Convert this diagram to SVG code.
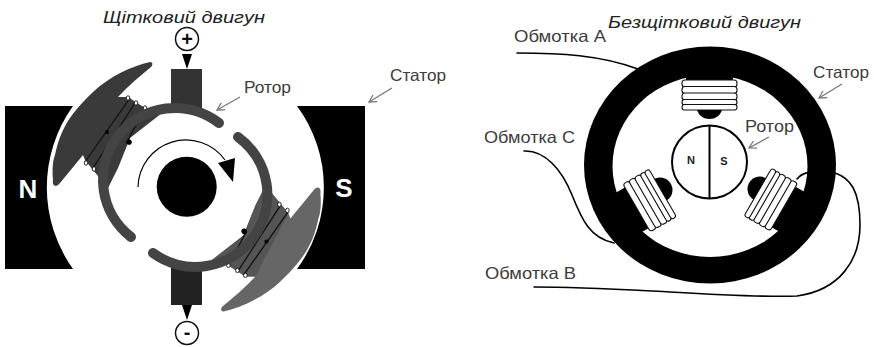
<svg xmlns="http://www.w3.org/2000/svg" width="874" height="347" viewBox="0 0 874 347">
<style>
text{font-family:"Liberation Sans",Arial,sans-serif;fill:#3c3c3c}
.lbl{font-size:16.500px}
.ttl{font-size:17px;font-style:italic;fill:#222}
.big{font-size:26px;font-weight:bold;fill:#fff;text-anchor:middle}
.sym{font-size:20px;font-weight:bold;fill:#111;text-anchor:middle}
.pn{font-size:11px;font-weight:bold;fill:#222;text-anchor:middle}
.wire{fill:none;stroke:#000;stroke-width:1.6;stroke-linecap:round}
.thin{fill:none;stroke:#000;stroke-width:1.2}
.ptr{fill:none;stroke:#777;stroke-width:1.3}
.loop{fill:#fff;stroke:#111;stroke-width:.9}
.bar{fill:#fff;stroke:#111;stroke-width:1.1}
.seg{fill:none;stroke:#444;stroke-width:10;stroke-linecap:round}
</style>
<defs>
<marker id="open" viewBox="0 0 10 10" refX="9" refY="5" markerWidth="9" markerHeight="9" orient="auto" markerUnits="userSpaceOnUse"><path d="M1,0.5 L9,5 L1,9.5" fill="none" stroke="#777" stroke-width="1.4"/></marker>
<path id="polePath" d="M150,62 C153,62 153,65 151,67 C140,76 128,86 118,97 L128,97 L145,108 L162,113 L130,138 L118,168 L108,188 L93,170 L85,160 L83,155 L60,183 C56,188 52,186 53,180 C52,168 53,160 55,155 C58,140 63,128 70,118 C80,104 88,97 93,92 C110,76 132,66 150,62 Z"/>
<path id="stemPath" d="M118,97 L128,97 L145,108 L162,113 L130,138 L118,168 L108,188 L93,170 L85,160 Z"/>
<g id="coilLeft">
<g fill="none" stroke="#111" stroke-width="1.3">
<path d="M130,98 L85,162"/><path d="M135,103 L93,168"/><path d="M145,108 L128,140"/>
</g>
<ellipse class="loop" cx="128" cy="98" rx="1.8" ry="2.2"/><ellipse class="loop" cx="136" cy="103" rx="1.8" ry="2.2"/><ellipse class="loop" cx="145" cy="108" rx="1.8" ry="2.2"/>
<ellipse class="loop" cx="86" cy="163" rx="1.8" ry="2.2"/><ellipse class="loop" cx="94" cy="169" rx="1.8" ry="2.2"/>
<circle cx="107" cy="132" r="2" fill="#000"/><circle cx="129" cy="142" r="2.600" fill="#000"/>
</g>
<g id="winding">
<path d="M686,66 H733 V81 H686 Z" fill="#000"/>
<rect class="bar" x="682" y="80" width="55" height="7" rx="3"/>
<rect class="bar" x="682" y="86.500" width="55" height="7" rx="3"/>
<rect class="bar" x="682" y="93" width="55" height="7" rx="3"/>
<rect class="bar" x="682" y="99.500" width="55" height="5.500" rx="2.700"/>
<rect class="bar" x="682" y="104.500" width="55" height="5.500" rx="2.500"/>
</g>
</defs>
<rect width="874" height="347" fill="#fff"/>

<g id="brushed-stator">
<path d="M5,106 H73 A140,140 0 0 0 73,269 H5 Z" fill="#000"/>
<path d="M297,106 H365 V269 H297 A137,137 0 0 0 297,106 Z" fill="#000"/>
<text class="big" x="28" y="198">N</text>
<text class="big" x="344" y="197">S</text>
</g>

<g id="pole-upper">
<use href="#polePath" fill="#3a3a3a"/>
<use href="#coilLeft"/>
</g>
<g id="pole-lower" transform="rotate(180 186.700 186.700)">
<use href="#polePath" fill="#666"/>
<use href="#stemPath" fill="#555"/>
<use href="#coilLeft"/>
</g>

<g id="brush-top"><rect x="171" y="69" width="31" height="44" fill="#333"/></g>
<g id="brush-bottom"><rect x="171" y="263" width="31" height="42" fill="#222"/></g>

<g id="commutator">
<path class="seg" d="M219,123 A71,71 0 1 0 131,237"/>
<path class="seg" d="M238,137 A71,71 0 1 1 153,253"/>
<circle cx="186.700" cy="186.700" r="30" fill="#000"/>
<circle cx="129" cy="142" r="2.600" fill="#000"/>
<circle cx="244" cy="231" r="2.600" fill="#000"/>
</g>

<g id="rotation">
<path class="thin" d="M138,187 A48,48 0 0 1 225,160"/>
<path d="M218,163 L235,158 L233,182 Z" fill="#000"/>
</g>

<g id="terminal-plus">
<circle cx="187" cy="39" r="11.500" fill="#fff" stroke="#111" stroke-width="1.5"/>
<text class="sym" x="187" y="46">+</text>
<path d="M182,54 H192 L187,69 Z" fill="#000"/>
</g>
<g id="terminal-minus">
<circle cx="187" cy="333" r="11.500" fill="#fff" stroke="#111" stroke-width="1.5"/>
<text class="sym" x="187" y="339">-</text>
<path d="M182,305 H192 L187,320 Z" fill="#000"/>
</g>

<g id="bldc-stator">
<ellipse cx="710" cy="165" rx="126" ry="118.500" fill="#000"/>
<ellipse cx="710" cy="166" rx="97.500" ry="91" fill="#fff"/>
</g>
<g id="coil-a">
<path d="M697,110 H722 C720,116 715,119 709.500,119 C704,119 699,116 697,110 Z" fill="#000"/>
<use href="#winding"/>
</g>
<g id="coil-c">
<circle cx="660" cy="190" r="12.500" fill="#000"/>
<use href="#winding" transform="rotate(-120 710 165)"/>
</g>
<g id="coil-b">
<circle cx="760" cy="189" r="12.500" fill="#000"/>
<use href="#winding" transform="rotate(120 710 165)"/>
</g>

<g id="bldc-rotor">
<ellipse cx="709.500" cy="162" rx="37.500" ry="36.500" fill="#fff" stroke="#000" stroke-width="2"/>
<path d="M709.500,126 V198" stroke="#000" stroke-width="2"/>
<text class="pn" x="691" y="164">N</text>
<text class="pn" x="724" y="165">S</text>
</g>

<g id="connectors">
<path class="wire" d="M517,53 C560,53 600,55 638,69"/>
<path class="wire" d="M524,151 C545,150 562,170 572,195 C582,220 590,238 614,243"/>
<path class="wire" d="M534,287 C580,287 630,290 670,292 C720,295 770,297 797,296 C840,290 860,260 860,225 C860,190 850,178 835,173"/>
<path class="wire" d="M797,179 C802,173 808,171 825,172"/>
<path class="ptr" marker-end="url(#open)" d="M240,97 L217,110"/>
<path class="ptr" marker-end="url(#open)" d="M392,88 L369,102"/>
<path class="ptr" marker-end="url(#open)" d="M842,84 L819,98"/>
<path class="ptr" marker-end="url(#open)" d="M769,137 L749,148"/>
</g>

<g id="labels">
<text class="ttl" x="103" y="23" textLength="162" lengthAdjust="spacingAndGlyphs">Щітковий двигун</text>
<text class="ttl" x="608" y="28" textLength="193" lengthAdjust="spacingAndGlyphs">Безщітковий двигун</text>
<text class="lbl" x="244" y="93" textLength="47" lengthAdjust="spacingAndGlyphs">Ротор</text>
<text class="lbl" x="390" y="81" textLength="56" lengthAdjust="spacingAndGlyphs">Статор</text>
<text class="lbl" x="813" y="78" textLength="56" lengthAdjust="spacingAndGlyphs">Статор</text>
<text class="lbl" x="745" y="132" textLength="49" lengthAdjust="spacingAndGlyphs">Ротор</text>
<text class="lbl" x="514" y="42" textLength="92" lengthAdjust="spacingAndGlyphs">Обмотка А</text>
<text class="lbl" x="484" y="143" textLength="91" lengthAdjust="spacingAndGlyphs">Обмотка С</text>
<text class="lbl" x="485" y="279" textLength="91" lengthAdjust="spacingAndGlyphs">Обмотка В</text>
</g>
</svg>
